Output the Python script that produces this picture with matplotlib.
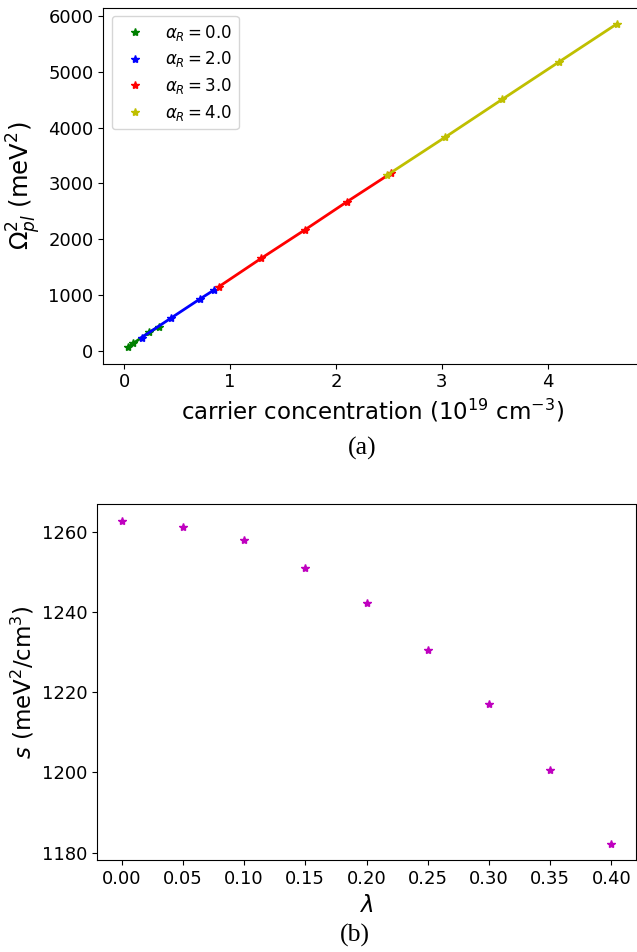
import numpy as np
import matplotlib
matplotlib.use("Agg")
import matplotlib.pyplot as plt

# panel (a): plasma frequency squared vs carrier concentration
alpha_labels = ["0.0", "2.0", "3.0", "4.0"]
alpha_colors = ["g", "b", "r", "y"]
conc_a0 = [0.033, 0.086, 0.237, 0.332]
omega2_a0 = [61, 133, 330, 434]
conc_a2 = [0.165, 0.439, 0.712, 0.846]
omega2_a2 = [237, 581, 923, 1085]
conc_a3 = [0.897, 1.296, 1.705, 2.105, 2.518]
omega2_a3 = [1151, 1658, 2164, 2671, 3180]
conc_a4 = [2.486, 3.031, 3.572, 4.111, 4.653]
omega2_a4 = [3150, 3826, 4507, 5181, 5857]

# panel (b): slope s vs lambda
lam = [0.00, 0.05, 0.10, 0.15, 0.20, 0.25, 0.30, 0.35, 0.40]
slope = [1262.8, 1261.3, 1257.9, 1251.0, 1242.3, 1230.6, 1217.1, 1200.5, 1182.1]

tick_fs = 13
label_fs = 16.5
W, H = 637, 952

fig = plt.figure(figsize=(W / 100, H / 100), dpi=100)

# --- (a) ---
ax1 = fig.add_axes([103.2 / W, 1 - 363.5 / H, 538 / W, 355.7 / H])
series = [
    (conc_a0, omega2_a0),
    (conc_a2, omega2_a2),
    (conc_a3, omega2_a3),
    (conc_a4, omega2_a4),
]
for (xs, ys), c, lab in zip(series, alpha_colors, alpha_labels):
    ax1.plot(xs, ys, "-", color=c, lw=2)
    ax1.plot(xs, ys, "*", color=c, ms=6, label=r"$\alpha_R = %s$" % lab)
ax1.set_xticks([0, 1, 2, 3, 4])
ax1.set_yticks([0, 1000, 2000, 3000, 4000, 5000, 6000])
ax1.tick_params(labelsize=tick_fs)
ax1.set_xlabel(r"carrier concentration (10$^{19}$ cm$^{-3}$)", fontsize=label_fs)
ax1.set_ylabel(r"$\Omega^2_{pl}$ (meV$^2$)", fontsize=17.5)
ax1.legend(loc="upper left", fontsize=12, labelspacing=0.4)

# --- (b) ---
ax2 = fig.add_axes([97.2 / W, 1 - 860.3 / H, 538.6 / W, 355.8 / H])
ax2.plot(lam, slope, "m*", ms=6)
ax2.set_xticks(lam)
ax2.set_yticks([1180, 1200, 1220, 1240, 1260])
ax2.tick_params(labelsize=tick_fs)
ax2.set_xlabel(r"$\lambda$", fontsize=label_fs)
ax2.set_ylabel(r"$s$ (meV$^2$/cm$^3$)", fontsize=label_fs)

# captions
fig.text(362 / W, 1 - 448 / H, "(a)", family="Liberation Serif", fontsize=18.5,
         ha="center", va="center")
fig.text(355 / W, 1 - 935 / H, "(b)", family="Liberation Serif", fontsize=18.5,
         ha="center", va="center")

fig.savefig("out.png", dpi=100)
